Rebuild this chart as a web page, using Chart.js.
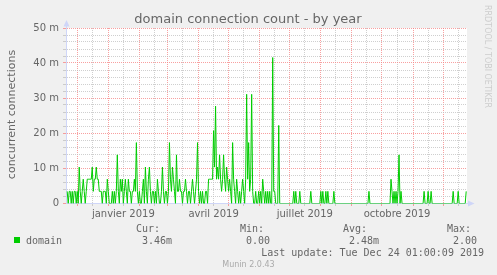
<!DOCTYPE html>
<html><head><meta charset="utf-8">
<script src="https://cdn.jsdelivr.net/npm/chart.js@4.4.1/dist/chart.umd.min.js"></script>
<style>html,body{margin:0;padding:0;background:#F0F0F0;overflow:hidden}canvas{display:block}</style>
</head><body>
<canvas id="c" width="497" height="275" style="width:497px;height:275px"></canvas>
<script>
// ---- text ----
const chartTitle = 'domain connection count - by year';
const yAxisTitle = 'concurrent connections';
const watermark = 'RRDTOOL / TOBI OETIKER';
const seriesName = 'domain';
const statLabels = ['Cur:', 'Min:', 'Avg:', 'Max:'];
const statValues = ['3.46m', '0.00', '2.48m', '2.00'];
const lastUpdate = 'Last update: Tue Dec 24 01:00:09 2019';
const footer = 'Munin 2.0.43';

// ---- axis ticks (x in days since 1 Jan 2019) ----
const monthStartDays = [-31, 0, 31, 59, 90, 120, 151, 181, 212, 243, 273, 304, 334];
const midMonthDays = [-16, 15, 46, 74, 105, 135, 166, 196, 227, 258, 288, 319, 349];
const xLabelDays = [15, 105, 196, 288];
const xTickLabels = ['janvier 2019', 'avril 2019', 'juillet 2019', 'octobre 2019'];
const yTickValues = [0, 10, 20, 30, 40, 50];
const yTickLabels = ['0', '10 m', '20 m', '30 m', '40 m', '50 m'];

// ---- daily values (milli connections), one per day ----
const nov2018 = [3.47,0,3.47,3.47,0,3.47,0,3.47,3.47,0];
const dec2018 = [3.47,0,10.4,3.47,0,3.47,6.94,3.47,0,3.47,6.94,6.94,6.94,6.94,6.94,10.4,3.47,6.94,6.94,10.4,6.94,6.94,3.47,3.47,3.47,0,3.47,3.47,3.47,0,6.94];
const jan2019 = [3.47,0,0,0,3.47,0,3.47,0,3.47,13.9,3.47,0,6.94,3.47,6.94,0,3.47,6.94,3.47,0,6.94,3.47,3.47,0,3.47,3.47,6.94,3.47,17.4,3.47,0];
const feb2019 = [3.47,0,0,3.47,6.94,0,10.4,3.47,0,6.94,10.4,3.47,0,3.47,3.47,0,3.47,0,6.94,3.47,0,0,3.47,10.4,3.47,0,3.47,3.47];
const mar2019 = [0,3.47,17.4,6.94,3.47,10.4,6.94,3.47,0,13.9,3.47,3.47,6.94,3.47,3.47,0,3.47,3.47,6.94,3.47,0,3.47,3.47,0,3.47,6.94,3.47,0,3.47,6.94,17.4];
const apr2019 = [3.47,0,3.47,0,3.47,0,0,3.47,3.47,0,6.94,6.94,6.94,6.94,6.94,20.8,10.4,27.8,6.94,10.4,6.94,13.9,6.94,3.47,6.94,13.9,6.94,3.47,10.4,6.94];
const may2019 = [3.47,6.94,3.47,0,17.4,6.94,3.47,0,6.94,3.47,0,3.47,0,3.47,6.94,3.47,0,6.94,31.2,6.94,17.4,3.47,6.94,31.2,3.47,0,0,3.47,0,0,3.47];
const jun2019 = [0,3.47,0,6.94,3.47,0,3.47,0,3.47,0,3.47,0,0,41.7,3.47,3.47,0,0,0,22.3,0,0,0,0,0,0,0,0,0,0];
const jul2019 = [0,0,0,0,3.47,0,3.47,0,0,0,3.47,0,0,0,0,0,0,0,0,0,0,3.47,0,0,0,0,0,0,0,0,0];
const aug2019 = [3.47,0,3.47,0,0,3.47,0,3.47,0,0,0,0,0,3.47,0,0,0,0,0,0,0,0,0,0,0,0,0,0,0,0,0];
const sep2019 = [0,0,0,0,0,0,0,0,0,0,0,0,0,0,0,0,0,3.47,0,0,0,0,0,0,0,0,0,0,0,0];
const oct2019 = [0,0,0,0,0,0,0,0,0,6.94,3.47,0,3.47,0,3.47,0,3.47,13.9,0,3.47,0,0,0,0,0,0,0,0,0,0,0];
const nov2019 = [0,0,0,0,0,0,0,0,0,0,0,3.47,0,0,0,3.47,0,0,3.47,0,0,0,0,0,0,0,0,0,0,0];
const dec2019 = [0,0,0,0,0,0,0,0,0,0,3.47,0,0,0,0,3.47,0,0,0,0,0,0,0,3.47];
const chunkStartDays = [-41, -31, 0, 31, 59, 90, 120, 151, 181, 212, 243, 273, 304, 334];
const chunks = [nov2018, dec2018, jan2019, feb2019, mar2019, apr2019, may2019, jun2019, jul2019, aug2019, sep2019, oct2019, nov2019, dec2019];

const points = [];
chunks.forEach((arr, i) => arr.forEach((v, j) => points.push({x: chunkStartDays[i] + j, y: v})));

const MGRID = 'rgba(245,128,128,0.75)';
const GRID = 'rgba(191,191,191,0.75)';
const AXIS = '#CFD6F8';
const FONT = '#666666';
const xGridDays = monthStartDays.concat(midMonthDays).sort((a, b) => a - b);

const decor = {
  id: 'decor',
  beforeDraw(chart) {
    const {ctx, chartArea: a} = chart;
    ctx.save();
    ctx.fillStyle = '#F0F0F0';
    ctx.fillRect(0, 0, chart.width, chart.height);
    ctx.fillStyle = '#FFFFFF';
    ctx.fillRect(a.left, a.top, a.right - a.left, a.bottom - a.top);
    ctx.restore();
  },
  beforeDatasetsDraw(chart) { chart.ctx.save(); chart.ctx.translate(0, 0.5); },
  afterDatasetsDraw(chart) { chart.ctx.restore(); },
  afterDraw(chart) {
    const {ctx, chartArea: a} = chart;
    ctx.save();
    // axis arrows
    ctx.fillStyle = AXIS; ctx.strokeStyle = AXIS; ctx.lineWidth = 1;
    ctx.beginPath(); ctx.moveTo(a.left + 0.5, a.top); ctx.lineTo(a.left + 0.5, a.top - 3); ctx.stroke();
    ctx.beginPath(); ctx.moveTo(a.left - 2.5, a.top - 1.5); ctx.lineTo(a.left + 3.5, a.top - 1.5); ctx.lineTo(a.left + 0.5, a.top - 8); ctx.closePath(); ctx.fill();
    ctx.beginPath(); ctx.moveTo(a.right, a.bottom + 0.5); ctx.lineTo(a.right + 2, a.bottom + 0.5); ctx.stroke();
    ctx.beginPath(); ctx.moveTo(a.right + 1, a.bottom - 2.5); ctx.lineTo(a.right + 1, a.bottom + 3.5); ctx.lineTo(a.right + 7.5, a.bottom + 0.5); ctx.closePath(); ctx.fill();

    // title
    ctx.fillStyle = FONT;
    ctx.font = '13px "DejaVu Sans"';
    ctx.textAlign = 'center'; ctx.textBaseline = 'alphabetic';
    ctx.fillText(chartTitle, 248, 23);
    // y title
    ctx.save();
    ctx.translate(15, 114.5); ctx.rotate(-Math.PI / 2);
    ctx.font = '11px "DejaVu Sans"';
    ctx.fillText(yAxisTitle, 0, 0);
    ctx.restore();
    // watermark
    ctx.save();
    ctx.translate(485, 5); ctx.rotate(Math.PI / 2);
    ctx.font = '8px "DejaVu Sans"'; ctx.textAlign = 'left'; ctx.fillStyle = '#CDCDCD';
    ctx.fillText(watermark, 0, 0);
    ctx.restore();
    // legend
    ctx.fillStyle = '#00CC00';
    ctx.fillRect(14, 237, 6, 6);
    ctx.fillStyle = FONT;
    ctx.font = '10px "DejaVu Sans Mono"'; ctx.textAlign = 'left';
    ctx.fillText(seriesName, 26, 244);
    const labelX = [136, 240, 343, 447];
    const valueX = [142, 246, 349, 453];
    statLabels.forEach((t, i) => ctx.fillText(t, labelX[i], 232));
    statValues.forEach((t, i) => ctx.fillText(t, valueX[i], 244));
    ctx.textAlign = 'right';
    ctx.fillText(lastUpdate, 484, 256);
    ctx.textAlign = 'center';
    ctx.font = '8px "DejaVu Sans"'; ctx.fillStyle = '#AAAAAA';
    ctx.fillText(footer, 248.5, 267);
    ctx.restore();
  }
};

new Chart(document.getElementById('c'), {
  type: 'line',
  data: { datasets: [{ label: seriesName, data: points, borderColor: '#00CC00', borderWidth: 1, pointRadius: 0, tension: 0, fill: false }] },
  options: {
    responsive: false, animation: false, devicePixelRatio: 1,
    layout: { padding: { left: 0, right: 30, top: 28, bottom: 52 } },
    plugins: { legend: { display: false }, tooltip: { enabled: false }, title: { display: false } },
    scales: {
      x: {
        type: 'linear', min: -42.2, max: 357.8,
        afterBuildTicks: s => { s.ticks = xGridDays.map(v => ({ value: v })); },
        afterFit: s => { s.height = 20; },
        ticks: {
          autoSkip: false, maxRotation: 0, minRotation: 0, padding: 2, color: FONT,
          font: { family: 'DejaVu Sans', size: 10 },
          callback: v => { const i = xLabelDays.indexOf(v); return i >= 0 ? xTickLabels[i] : ''; }
        },
        grid: {
          lineWidth: 1, tickLength: 3,
          color: c => (c.tick && monthStartDays.includes(c.tick.value)) ? MGRID : GRID,
          tickColor: c => (c.tick && monthStartDays.includes(c.tick.value)) ? MGRID : GRID
        },
        border: { color: AXIS, width: 1, dash: [1, 1] }
      },
      y: {
        min: 0, max: 50,
        afterFit: s => { s.width = 66; },
        ticks: {
          stepSize: 2, autoSkip: false, padding: 4, color: FONT,
          font: { family: 'DejaVu Sans', size: 10 },
          callback: v => { const i = yTickValues.indexOf(v); return i >= 0 ? yTickLabels[i] : ''; }
        },
        grid: {
          lineWidth: 1, tickLength: 3,
          color: c => (c.tick && c.tick.value % 10 === 0) ? MGRID : GRID,
          tickColor: c => (c.tick && c.tick.value % 10 === 0) ? MGRID : GRID
        },
        border: { color: AXIS, width: 1, dash: [1, 1] }
      }
    }
  },
  plugins: [decor]
});
</script>
</body></html>
